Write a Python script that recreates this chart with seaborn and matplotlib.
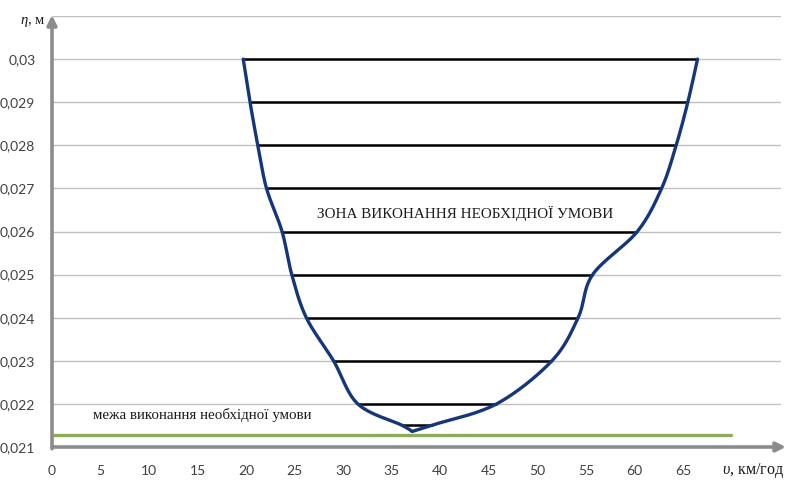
import numpy as np
import matplotlib
matplotlib.use("Agg")
import matplotlib.pyplot as plt
import seaborn as sns

# Boundary of the zone: speed v (km/h) at each clearance level eta (m)
eta_levels = [0.030, 0.029, 0.028, 0.027, 0.026, 0.025, 0.024, 0.023, 0.022, 0.02151]
v_left = [19.7, 20.4, 21.2, 22.1, 23.7, 24.7, 26.2, 29.0, 31.5, 36.0]
v_right = [66.5, 65.5, 64.3, 62.8, 60.3, 55.7, 54.2, 51.5, 45.8, 39.2]
v_bottom = 37.1
eta_bottom = 0.02136

# Limit of the required condition
eta_limit = 0.02128
v_limit_end = 70

x_ticks = [0, 5, 10, 15, 20, 25, 30, 35, 40, 45, 50, 55, 60, 65, 70]
x_tick_labels = ["0", "5", "10", "15", "20", "25", "30", "35", "40", "45",
                 "50", "55", "60", "65", ""]
y_ticks = [0.021, 0.022, 0.023, 0.024, 0.025, 0.026, 0.027, 0.028, 0.029, 0.030]
y_tick_labels = ["0,021", "0,022", "0,023", "0,024", "0,025", "0,026",
                 "0,027", "0,028", "0,029", "0,03"]

zone_text = "ЗОНА ВИКОНАННЯ НЕОБХІДНОЇ УМОВИ"
limit_text = "межа виконання необхідної умови"
y_title = r"$\eta$, м"
x_title = r"$\upsilon$, км/год"

sns.set_style("white")
plt.rcParams["font.family"] = ["Lato", "DejaVu Sans"]
plt.rcParams["mathtext.fontset"] = "custom"
plt.rcParams["mathtext.rm"] = "Liberation Serif"
plt.rcParams["mathtext.it"] = "Liberation Serif:italic"

fig = plt.figure(figsize=(7.86, 4.80), dpi=100)
ax = fig.add_axes([52 / 786, 1 - 447 / 480, (781 - 52) / 786, (447 - 16) / 480])
ax.set_xlim(0, 75.1)
ax.set_ylim(0.021, 0.031)

# horizontal gridlines
for g in y_ticks[1:] + [0.031]:
    ax.axhline(g, color="#c0c0c0", lw=1.0, zorder=0)


def smooth(xs, ys, sx, sy, n=30):
    """Smoothed line through the points (cubic Bezier with 1/6 tangents)."""
    P = np.column_stack([np.asarray(xs) * sx, np.asarray(ys) * sy])
    out = []
    m = len(P)
    for i in range(m - 1):
        p0 = P[max(i - 1, 0)]
        p1 = P[i]
        p2 = P[i + 1]
        p3 = P[min(i + 2, m - 1)]
        c1 = p1 + (p2 - p0) / 6.0
        c2 = p2 - (p3 - p1) / 6.0
        t = np.linspace(0, 1, n)[:, None]
        seg = ((1 - t) ** 3) * p1 + 3 * ((1 - t) ** 2) * t * c1 + 3 * (1 - t) * t ** 2 * c2 + t ** 3 * p2
        out.append(seg if i == 0 else seg[1:])
    out = np.vstack(out)
    return out[:, 0] / sx, out[:, 1] / sy


# boundary curve: left branch down to the bottom, right branch up from it
curve_col = "#15377a"
lv, le = smooth(v_left + [v_bottom], eta_levels + [eta_bottom], 9.714, 43110.0)
rv, re_ = smooth([v_bottom] + v_right[::-1], [eta_bottom] + eta_levels[::-1], 9.714, 43110.0)
sv = np.concatenate([lv, rv[1:]])
se = np.concatenate([le, re_[1:]])
sns.lineplot(x=sv, y=se, sort=False, estimator=None, ax=ax,
             color=curve_col, lw=2.4, zorder=4)

# level lines across the zone
ax.hlines(eta_levels, v_left, v_right, color="black", lw=1.8, zorder=3)

# limit line
sns.lineplot(x=[0, v_limit_end], y=[eta_limit, eta_limit], ax=ax,
             color="#8cac58", lw=2.4, zorder=2)

# annotations
ax.text(42.6, 0.02642, zone_text, family="Liberation Serif", fontsize=10.9,
        ha="center", va="center", color="#1a1a1a")
ax.text(4.2, 0.02174, limit_text, family="Liberation Serif", fontsize=10.8,
        ha="left", va="center", color="#1a1a1a")

# axes with arrows
for s in ax.spines.values():
    s.set_visible(False)
axis_col = "#8c8c8c"
ax.annotate("", xy=(0, 0.03102), xytext=(0, 0.02096), xycoords="data",
            arrowprops=dict(arrowstyle="-|>", color=axis_col, lw=2.6,
                            mutation_scale=14, shrinkA=0, shrinkB=0),
            annotation_clip=False)
ax.annotate("", xy=(75.6, 0.021), xytext=(0, 0.021), xycoords="data",
            arrowprops=dict(arrowstyle="-|>", color=axis_col, lw=2.6,
                            mutation_scale=14, shrinkA=0, shrinkB=0),
            annotation_clip=False)

ax.set_xticks(x_ticks)
ax.set_xticklabels(x_tick_labels)
ax.set_yticks(y_ticks)
ax.set_yticklabels(y_tick_labels)
ax.tick_params(axis="both", direction="out", length=4, width=2, color=axis_col,
               labelsize=10, labelcolor="#404040")
ax.tick_params(axis="x", pad=9)
ax.tick_params(axis="y", pad=8)
ax.set_xlabel("")
ax.set_ylabel("")

# axis titles
fig.text(20 / 786, 1 - 22 / 480, y_title, family="Liberation Serif",
         fontsize=10.5, ha="left", va="center", color="#1a1a1a")
fig.text(722 / 786, 1 - 471 / 480, x_title, family="Liberation Serif",
         fontsize=11.5, ha="left", va="center", color="#1a1a1a")

fig.savefig("out.png", dpi=100)
